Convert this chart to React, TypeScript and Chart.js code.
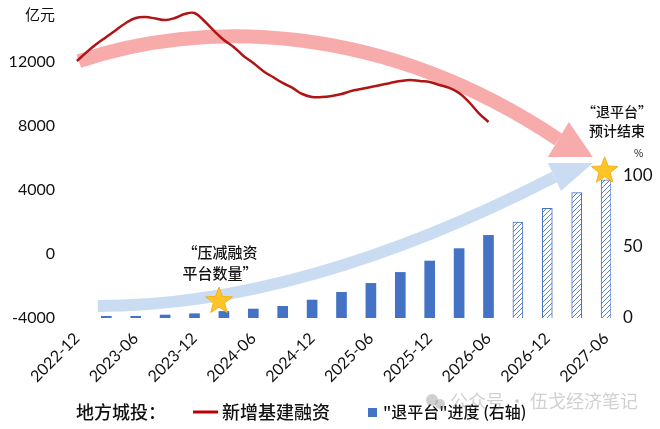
import { useEffect, useRef } from 'react';
import { Chart, registerables } from 'chart.js';

Chart.register(...registerables);

// ---------- data ----------
const MONTHS = [
  '2022-12',
  '2023-01', '2023-02', '2023-03', '2023-04', '2023-05', '2023-06', '2023-07', '2023-08', '2023-09', '2023-10', '2023-11', '2023-12',
  '2024-01', '2024-02', '2024-03', '2024-04', '2024-05', '2024-06', '2024-07', '2024-08', '2024-09', '2024-10', '2024-11', '2024-12',
  '2025-01', '2025-02', '2025-03', '2025-04', '2025-05', '2025-06', '2025-07', '2025-08', '2025-09', '2025-10', '2025-11', '2025-12',
  '2026-01', '2026-02', '2026-03', '2026-04', '2026-05', '2026-06', '2026-07', '2026-08', '2026-09', '2026-10', '2026-11', '2026-12',
  '2027-01', '2027-02', '2027-03', '2027-04', '2027-05', '2027-06',
];

// 新增基建融资 (亿元), monthly from 2022-12
const FINANCING = [
  12060, 12620, 13120, 13560, 14000, 14440, 14750, 14810, 14720, 14620, 14750, 15000, 15060,
  14560, 13940, 13380, 12940, 12380, 11940, 11440, 11060, 10690, 10380, 10000, 9810,
  9810, 9880, 10000, 10190, 10310, 10440, 10560, 10690, 10810, 10880, 10810, 10750,
  10560, 10380, 10060, 9500, 8810, 8250,
];

// "退平台"进度 (%), quarterly
const QUARTERS = [
  '2023-03', '2023-06', '2023-09', '2023-12', '2024-03', '2024-06', '2024-09', '2024-12', '2025-03',
  '2025-06', '2025-09', '2025-12', '2026-03', '2026-06', '2026-09', '2026-12', '2027-03', '2027-06',
];
const PROGRESS = [1.2, 1.2, 2.1, 3.0, 4.6, 6.3, 8.2, 12.6, 18, 24.3, 32, 40, 48.7, 58, 67.4, 77, 88, 97];
const FORECAST = [false, false, false, false, false, false, false, false, false, false, false, false, false, false, true, true, true, true];

const LEFT_TICKS = [-4000, 0, 4000, 8000, 12000];
const RIGHT_TICKS = [0, 50, 100];
const LEFT_MIN = -4000;
const LEFT_MAX = 15500;
const RIGHT_MIN = 0;
const RIGHT_MAX = 219;

// decorations, in [month index, left-axis value]
const PINK_CURVE = [[0.2, 12060], [12.55, 14625], [30.9, 14625], [49.13, 7156]];
const PINK_HEAD = [[50.2, 8250], [52.65, 6060], [48.06, 6060]];
const BLUE_CURVE = [[2.14, -3250], [18.67, -3250], [35.0, 500], [48.72, 4812]];
const BLUE_HEAD = [[48.06, 5687], [52.65, 5687], [49.39, 3937]];
const STARS = [[14.5, -2950], [53.85, 5200]];

const CJK = '"Noto Sans CJK SC", "Noto Sans", sans-serif';
const NUM = 'Lato, "Noto Sans", sans-serif';

function makeHatch(): CanvasPattern | string {
  const c = document.createElement('canvas');
  c.width = 5;
  c.height = 5;
  const g = c.getContext('2d');
  if (!g) return '#ffffff';
  g.fillStyle = '#ffffff';
  g.fillRect(0, 0, 5, 5);
  g.strokeStyle = '#5b84cc';
  g.lineWidth = 1;
  g.beginPath();
  g.moveTo(-1, 6);
  g.lineTo(6, -1);
  g.moveTo(-1, 1);
  g.lineTo(1, -1);
  g.moveTo(4, 6);
  g.lineTo(6, 4);
  g.stroke();
  const p = g.createPattern(c, 'repeat');
  return p || '#ffffff';
}

function drawStar(ctx: CanvasRenderingContext2D, cx: number, cy: number, r: number) {
  ctx.beginPath();
  for (let i = 0; i < 10; i++) {
    const rr = i % 2 === 0 ? r : r * 0.42;
    const a = -Math.PI / 2 + (i * Math.PI) / 5;
    const x = cx + rr * Math.cos(a);
    const y = cy + rr * Math.sin(a);
    if (i === 0) ctx.moveTo(x, y);
    else ctx.lineTo(x, y);
  }
  ctx.closePath();
  ctx.fillStyle = '#FFC526';
  ctx.fill();
  ctx.strokeStyle = '#F2B01E';
  ctx.lineWidth = 1;
  ctx.stroke();
}

const decorPlugin = {
  id: 'decor',
  beforeDatasetsDraw(chart: any) {
    const { ctx } = chart;
    const xs = chart.scales.x;
    const ys = chart.scales.y;
    const P = (p: number[]) => [xs.getPixelForValue(p[0]), ys.getPixelForValue(p[1])];
    const band = (curve: number[][], head: number[][], color: string, width: number) => {
      const c = curve.map(P);
      ctx.save();
      ctx.strokeStyle = color;
      ctx.lineWidth = width;
      ctx.lineCap = 'butt';
      ctx.beginPath();
      ctx.moveTo(c[0][0], c[0][1]);
      ctx.bezierCurveTo(c[1][0], c[1][1], c[2][0], c[2][1], c[3][0], c[3][1]);
      ctx.stroke();
      const h = head.map(P);
      ctx.fillStyle = color;
      ctx.beginPath();
      ctx.moveTo(h[0][0], h[0][1]);
      ctx.lineTo(h[1][0], h[1][1]);
      ctx.lineTo(h[2][0], h[2][1]);
      ctx.closePath();
      ctx.fill();
      ctx.restore();
    };
    band(PINK_CURVE, PINK_HEAD, '#F7ABAB', 14);
    band(BLUE_CURVE, BLUE_HEAD, '#C9DCF1', 12);
  },
  afterDatasetsDraw(chart: any) {
    const { ctx } = chart;
    const xs = chart.scales.x;
    const ys = chart.scales.y;
    STARS.forEach((s) => drawStar(ctx, xs.getPixelForValue(s[0]), ys.getPixelForValue(s[1]), 14));
  },
  afterDraw(chart: any) {
    const { ctx } = chart;
    const xs = chart.scales.x;
    const ys = chart.scales.y;
    const y1 = chart.scales.y1;
    ctx.save();
    ctx.fillStyle = '#111';
    ctx.textBaseline = 'middle';
    // unit labels
    ctx.font = `15px ${CJK}`;
    ctx.textAlign = 'right';
    ctx.fillText('亿元', 55, ys.top + 8);
    ctx.font = `10px ${CJK}`;
    ctx.textAlign = 'left';
    ctx.fillText('%', 634, y1.getPixelForValue(116));
    // annotations
    ctx.font = `500 15px ${CJK}`;
    ctx.textAlign = 'center';
    const ax = xs.getPixelForValue(14.6);
    ctx.fillText('“压减融资', ax, ys.getPixelForValue(100));
    ctx.fillText('平台数量”', ax, ys.getPixelForValue(-1190));
    ctx.font = `500 14px ${CJK}`;
    const bx = xs.getPixelForValue(55.1);
    ctx.fillText('“退平台”', bx, ys.getPixelForValue(8875));
    ctx.fillText('预计结束', bx, ys.getPixelForValue(7690));
    // legend
    const ly = 412;
    ctx.textAlign = 'left';
    ctx.font = `500 18px ${CJK}`;
    ctx.fillText('地方城投：', 76, ly);
    ctx.strokeStyle = '#C00000';
    ctx.lineWidth = 3;
    ctx.beginPath();
    ctx.moveTo(193, ly);
    ctx.lineTo(218, ly);
    ctx.stroke();
    ctx.fillText('新增基建融资', 222, ly);
    ctx.fillStyle = '#4472C4';
    ctx.fillRect(368, ly - 4, 9, 9);
    ctx.fillStyle = '#111';
    ctx.font = `500 16px ${CJK}`;
    ctx.fillText('"退平台"进度 (右轴)', 383, ly);
    // watermark
    ctx.globalAlpha = 0.35;
    ctx.fillStyle = '#777';
    ctx.beginPath();
    ctx.arc(432, 400, 6, 0, Math.PI * 2);
    ctx.fill();
    ctx.beginPath();
    ctx.arc(440, 404, 5, 0, Math.PI * 2);
    ctx.fill();
    ctx.font = `18px ${CJK}`;
    ctx.fillText('公众号 · 伍戈经济笔记', 450, 401);
    ctx.restore();
  },
};

const noPad = (s: any) => {
  s.paddingTop = 0;
  s.paddingBottom = 0;
  s.paddingLeft = 0;
  s.paddingRight = 0;
};

export default function App() {
  const ref = useRef<HTMLCanvasElement | null>(null);
  useEffect(() => {
    if (!ref.current) return;
    const hatch = makeHatch();
    const chart = new Chart(ref.current, {
      data: {
        labels: MONTHS,
        datasets: [
          {
            type: 'line',
            label: '新增基建融资',
            data: FINANCING,
            yAxisID: 'y',
            borderColor: '#B01414',
            borderWidth: 2.5,
            pointRadius: 0,
            tension: 0.4,
            fill: false,
            order: 0,
          },
          {
            type: 'bar',
            label: '"退平台"进度 (右轴)',
            data: QUARTERS.map((q, i) => ({ x: q, y: PROGRESS[i] })),
            yAxisID: 'y1',
            barThickness: 10,
            backgroundColor: QUARTERS.map((_, i) => (FORECAST[i] ? hatch : '#4472C4')),
            borderColor: QUARTERS.map((_, i) => (FORECAST[i] ? '#4472C4' : 'rgba(0,0,0,0)')),
            borderWidth: QUARTERS.map((_, i) => (FORECAST[i] ? 1 : 0)),
            order: 1,
          },
        ],
      } as any,
      options: {
        animation: false,
        responsive: false,
        maintainAspectRatio: false,
        layout: { padding: { top: 6, left: 0, right: 0, bottom: 0 } },
        plugins: { legend: { display: false }, tooltip: { enabled: false } },
        scales: {
          x: {
            type: 'category',
            offset: true,
            grid: { display: false, drawTicks: false },
            border: { display: false },
            ticks: {
              autoSkip: false,
              maxRotation: 45,
              minRotation: 45,
              padding: 11,
              color: '#111',
              font: { family: NUM, size: 16 },
              callback: (_v: any, i: number) => {
                const m = MONTHS[i];
                return m.endsWith('-06') || m.endsWith('-12') ? m : '';
              },
            },
            afterFit: (s: any) => {
              s.height = 111;
              noPad(s);
            },
          },
          y: {
            type: 'linear',
            position: 'left',
            min: LEFT_MIN,
            max: LEFT_MAX,
            grid: { display: false, drawTicks: false },
            border: { display: false },
            afterBuildTicks: (s: any) => {
              s.ticks = LEFT_TICKS.map((v) => ({ value: v }));
            },
            ticks: {
              padding: 17,
              color: '#111',
              font: { family: NUM, size: 16 },
              callback: (v: any) => String(v),
            },
            afterFit: (s: any) => {
              s.width = 72;
              noPad(s);
            },
          },
          y1: {
            type: 'linear',
            position: 'right',
            min: RIGHT_MIN,
            max: RIGHT_MAX,
            grid: { display: false, drawTicks: false },
            border: { display: false },
            afterBuildTicks: (s: any) => {
              s.ticks = RIGHT_TICKS.map((v) => ({ value: v }));
            },
            ticks: {
              padding: 12,
              color: '#111',
              font: { family: NUM, size: 17 },
              callback: (v: any) => String(v),
            },
            afterFit: (s: any) => {
              s.width = 49;
              noPad(s);
            },
          },
        },
      } as any,
      plugins: [decorPlugin],
    });
    return () => chart.destroy();
  }, []);
  return (
    <div style={{ position: 'fixed', left: 0, top: 0, width: 660, height: 429, background: '#fff' }}>
      <canvas ref={ref} width={660} height={429} style={{ width: 660, height: 429, display: 'block' }} />
    </div>
  );
}
